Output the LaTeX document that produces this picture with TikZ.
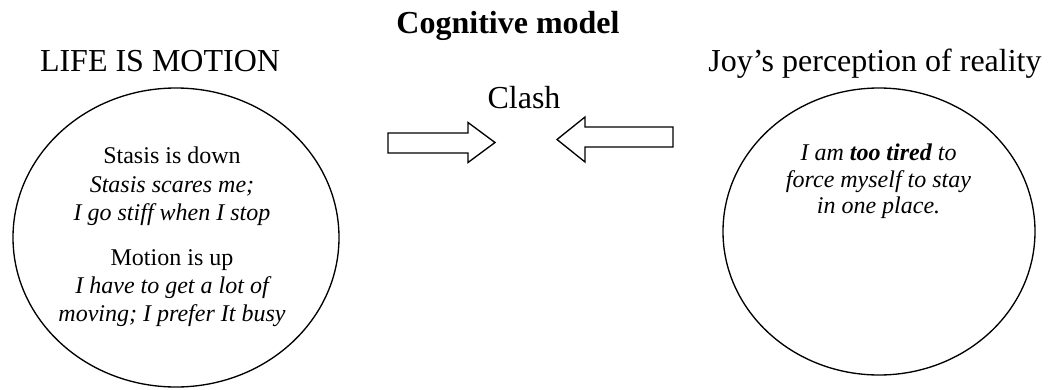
\documentclass[tikz,border=0pt]{standalone}
\usepackage{fontspec}
\setmainfont{Liberation Serif}
\usetikzlibrary{shapes.geometric}
\begin{document}
\begin{tikzpicture}[x=0.75pt,y=-0.75pt,
  heading/.style={font=\fontsize{24}{28}\selectfont, anchor=base, inner sep=0pt},
  inner/.style={font=\fontsize{18}{21}\selectfont, anchor=base, inner sep=0pt},
  innerit/.style={inner, font=\fontsize{18}{21}\selectfont\itshape},
  oval/.style={draw, ellipse, line width=1pt, inner sep=0pt},
  fatarrow/.style={draw, line width=1pt, line join=miter, fill=white}]
\useasboundingbox (0,0) rectangle (1049,389);
% titles
\node[heading, font=\fontsize{24}{28}\selectfont\bfseries] (title) at (508,33) {Cognitive model};
\node[heading] (life) at (160,71) {LIFE IS MOTION};
\node[heading] (joy) at (875,71) {Joy’s perception of reality};
\node[heading] (clash) at (524,108) {Clash};
% ellipses
\node[oval, minimum width=244.5pt, minimum height=224.25pt] (left) at (176,237.5) {};
\node[oval, minimum width=234pt, minimum height=215.25pt] (right) at (879,231.5) {};
% left text
\node[inner] (l1) at (172,163) {Stasis is down};
\node[innerit] (l2) at (172,192) {Stasis scares me;};
\node[innerit] (l3) at (172,220) {I go stiff when I stop};
\node[inner] (l4) at (172,265) {Motion is up};
\node[innerit] (l5) at (172,293) {I have to get a lot of};
\node[innerit] (l6) at (172,321) {moving; I prefer It busy};
% right text
\node[innerit] (r1) at (878.5,160) {I am \textbf{too tired} to};
\node[innerit] (r2) at (878.5,187) {force myself to stay};
\node[innerit] (r3) at (878.5,213) {in one place.};
% block arrows
\draw[fatarrow] (388,133) -- (468,133) -- (468,122.5) -- (495,142.5) -- (468,162.5) -- (468,153) -- (388,153) -- cycle;
\draw[fatarrow] (673,127) -- (585,127) -- (585,117) -- (557,139.5) -- (585,162) -- (585,147) -- (673,147) -- cycle;
\end{tikzpicture}
\end{document}
